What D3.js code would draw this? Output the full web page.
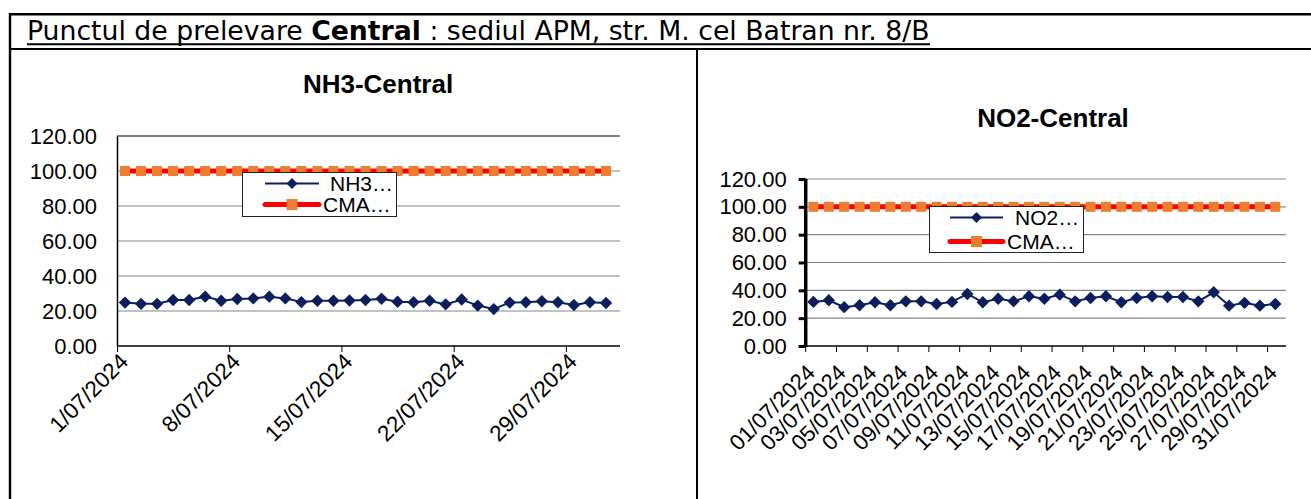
<!DOCTYPE html>
<html><head><meta charset="utf-8">
<script src="https://cdn.jsdelivr.net/npm/d3@7"></script>
<style>html,body{margin:0;padding:0;background:#fff;overflow:hidden}</style>
</head><body>
<svg id="c" width="1311" height="499"></svg>
<script>
// ---------- data ----------
const days = d3.range(1, 32); // 1..31 July 2024
const nh3Values = [24.8, 24.1, 24.1, 26.3, 26.3, 28.2, 25.9, 26.9, 27.2, 28.2, 27.2, 25.1, 25.9, 25.9, 26.0,
                   26.3, 27.0, 25.3, 25.0, 25.9, 23.8, 26.6, 23.1, 21.1, 24.8, 25.0, 25.6, 25.0, 23.4, 25.0, 24.6];
const no2Values = [31.7, 32.9, 27.9, 29.3, 31.4, 29.3, 32.1, 32.1, 30.2, 31.7, 37.4, 31.4, 34.0, 32.1, 35.7,
                   34.0, 36.9, 32.1, 34.5, 35.7, 31.4, 34.5, 35.7, 35.2, 35.2, 32.1, 38.6, 29.0, 31.0, 29.0, 30.2];
const cmaValues = days.map(() => 100);
const yTicks = [0, 20, 40, 60, 80, 100, 120];
const nh3XTickDays = [1, 8, 15, 22, 29];
const nh3Title = "NH3-Central";
const no2Title = "NO2-Central";
const nh3Legend = ["NH3…", "CMA…"];
const no2Legend = ["NO2…", "CMA…"];
const headerParts = [["Punctul de prelevare ", false], ["Central", true], [" : sediul APM, str. M. cel Batran nr. 8/B", false]];

// ---------- styles ----------
const NAVY = "#0b1f5e", RED = "#ff0000", ORANGE = "#ed7d31", GRID = "#868686";
const FONT = "'Liberation Sans', Arial, sans-serif";
const svg = d3.select("#c");
svg.append("rect").attr("width", 1311).attr("height", 499).attr("fill", "#fff");

// ---------- table borders ----------
const bl = svg.append("g").attr("stroke", "#000").attr("fill", "none");
bl.append("line").attr("x1", 9).attr("x2", 1311).attr("y1", 14.3).attr("y2", 14.3).attr("stroke-width", 2.6);
bl.append("line").attr("x1", 10).attr("x2", 10).attr("y1", 13).attr("y2", 499).attr("stroke-width", 2.4);
bl.append("line").attr("x1", 9).attr("x2", 1311).attr("y1", 49).attr("y2", 49).attr("stroke-width", 2);
bl.append("line").attr("x1", 697).attr("x2", 697).attr("y1", 49).attr("y2", 499).attr("stroke-width", 2);

// ---------- header ----------
const hg = svg.append("g").attr("transform", "translate(27,40)");
const ht = hg.append("text").attr("font-family", "'DejaVu Sans Condensed','DejaVu Sans',sans-serif")
  .attr("font-size", 27).attr("fill", "#000");
headerParts.forEach(([t, b]) => ht.append("tspan").attr("font-weight", b ? "bold" : "normal").text(t));
const hw = ht.node().getComputedTextLength();
const sx = 903 / hw;
ht.attr("transform", `scale(${sx},1)`);
hg.append("line").attr("x1", 0).attr("x2", 903).attr("y1", 4.3).attr("y2", 4.3).attr("stroke", "#000").attr("stroke-width", 2);

function diamond(g, x, y, r) {
  g.append("path").attr("d", `M${x},${y - r}L${x + r},${y}L${x},${y + r}L${x - r},${y}Z`).attr("fill", NAVY);
}

function drawSeries(g, xs, y, vals, cma) {
  const line = d3.line().x((d, i) => xs(i)).y(d => y(d));
  g.append("path").datum(cma).attr("d", line).attr("fill", "none").attr("stroke", RED).attr("stroke-width", 5);
  cma.forEach((d, i) => g.append("rect").attr("x", xs(i) - 5).attr("y", y(d) - 5).attr("width", 10).attr("height", 10).attr("fill", ORANGE));
  g.append("path").datum(vals).attr("d", line).attr("fill", "none").attr("stroke", NAVY).attr("stroke-width", 2);
  vals.forEach((d, i) => diamond(g, xs(i), y(d), 6.2));
}

function drawLegend(g, x0, y0, w, h, labels, lineX0, lineX1, textX, rowY) {
  g.append("rect").attr("x", x0).attr("y", y0).attr("width", w).attr("height", h).attr("fill", "#fff").attr("stroke", "#222").attr("stroke-width", 1);
  g.append("line").attr("x1", lineX0).attr("x2", lineX1).attr("y1", rowY[0]).attr("y2", rowY[0]).attr("stroke", NAVY).attr("stroke-width", 2);
  diamond(g, (lineX0 + lineX1) / 2, rowY[0], 5.5);
  g.append("line").attr("x1", lineX0).attr("x2", lineX1).attr("y1", rowY[1]).attr("y2", rowY[1]).attr("stroke", RED).attr("stroke-width", 5).attr("stroke-linecap", "round");
  g.append("rect").attr("x", (lineX0 + lineX1) / 2 - 5.5).attr("y", rowY[1] - 5.5).attr("width", 11).attr("height", 11).attr("fill", ORANGE);
  labels.forEach((t, i) => g.append("text").attr("x", textX[i]).attr("y", rowY[i] + 7.5).attr("font-family", FONT).attr("font-size", 21).attr("fill", "#000").text(t));
}

// ---------- left chart: NH3 (date axis) ----------
{
  const g = svg.append("g");
  const t0 = new Date(2024, 6, 1), t1 = new Date(2024, 7, 1);
  const x = d3.scaleTime().domain([t0, t1]).range([117, 614]);
  const y = d3.scaleLinear().domain([0, 120]).range([346, 136]);
  const dates = days.map(d => new Date(2024, 6, d, 12));
  const xs = i => x(dates[i]);

  g.append("text").attr("x", 378).attr("y", 93).attr("text-anchor", "middle").attr("font-family", FONT)
    .attr("font-weight", "bold").attr("font-size", 26).text(nh3Title);

  g.selectAll(".grid").data(yTicks.filter(v => v > 0)).join("line")
    .attr("x1", 117).attr("x2", 620).attr("y1", d => y(d)).attr("y2", d => y(d))
    .attr("stroke", d => d === 120 ? "#000" : GRID).attr("stroke-width", 1.2);

  const ya = d3.axisLeft(y).tickValues(yTicks).tickSize(0).tickPadding(20).tickFormat(d3.format(".2f"));
  const yg = g.append("g").attr("transform", "translate(117,0)").call(ya);
  yg.select(".domain").attr("stroke", "#000").attr("stroke-width", 1.5);
  yg.selectAll("text").attr("font-family", FONT).attr("font-size", 22).attr("fill", "#000");

  const tickDates = nh3XTickDays.map(d => new Date(2024, 6, d));
  const xa = d3.axisBottom(x).tickValues(tickDates).tickSize(6).tickSizeOuter(0).tickFormat(d3.timeFormat("%-d/%m/%Y"));
  const xg = g.append("g").attr("transform", "translate(0,346)").call(xa);
  xg.select(".domain").attr("stroke", "#000").attr("stroke-width", 1.5).attr("d", "M117,0H620");
  xg.selectAll(".tick line").attr("stroke", "#000");
  xg.selectAll("text").attr("font-family", FONT).attr("font-size", 22.5).attr("fill", "#000")
    .attr("text-anchor", "end").attr("dy", 0).attr("y", 0)
    .attr("transform", "translate(12,17) rotate(-45)");

  drawSeries(g, xs, y, nh3Values, cmaValues);
  drawLegend(g, 242.5, 172.5, 154, 44, nh3Legend, 265, 319, [330, 323], [183.5, 204.5]);
}

// ---------- right chart: NO2 (category axis) ----------
{
  const g = svg.append("g");
  const cats = days.map(d => d3.timeFormat("%d/%m/%Y")(new Date(2024, 6, d)));
  const x = d3.scaleBand().domain(cats).range([805.7, 1283]).padding(0);
  const y = d3.scaleLinear().domain([0, 120]).range([346, 179]);
  const xs = i => x(cats[i]) + x.bandwidth() / 2;

  g.append("text").attr("x", 1053).attr("y", 127).attr("text-anchor", "middle").attr("font-family", FONT)
    .attr("font-weight", "bold").attr("font-size", 26).text(no2Title);

  g.selectAll(".grid").data(yTicks.filter(v => v > 0)).join("line")
    .attr("x1", 805.7).attr("x2", 1286).attr("y1", d => y(d)).attr("y2", d => y(d))
    .attr("stroke", GRID).attr("stroke-width", 1.2);

  const xg = g.append("g");
  xg.append("line").attr("x1", 805.7).attr("x2", 1286).attr("y1", 346).attr("y2", 346).attr("stroke", "#000").attr("stroke-width", 1.5);
  const tickIdx = d3.range(0, 31, 2);
  xg.selectAll(".tk").data(tickIdx).join("line")
    .attr("x1", i => x(cats[i])).attr("x2", i => x(cats[i])).attr("y1", 346).attr("y2", 352)
    .attr("stroke", "#000").attr("stroke-width", 1);
  xg.selectAll(".lb").data(tickIdx).join("text")
    .attr("font-family", FONT).attr("font-size", 22).attr("fill", "#000").attr("text-anchor", "end")
    .attr("transform", i => `translate(${xs(i) + 3},${374}) rotate(-45)`)
    .text(i => cats[i]);

  const ya = d3.axisLeft(y).tickValues(yTicks).tickSize(7).tickPadding(12).tickFormat(d3.format(".2f"));
  const yg = g.append("g").attr("transform", "translate(805.7,0)").call(ya);
  yg.select(".domain").attr("stroke", "#000").attr("stroke-width", 3.5).attr("d", `M0,${y(120)}V${y(0) + 1}`);
  yg.selectAll(".tick line").attr("stroke", "#000").attr("stroke-width", 3);
  yg.selectAll("text").attr("font-family", FONT).attr("font-size", 22).attr("fill", "#000");

  drawSeries(g, xs, y, no2Values, cmaValues);
  drawLegend(g, 929.5, 206.5, 154, 46, no2Legend, 950, 1003, [1015, 1007], [217.5, 241.5]);
}
</script>
</body></html>
